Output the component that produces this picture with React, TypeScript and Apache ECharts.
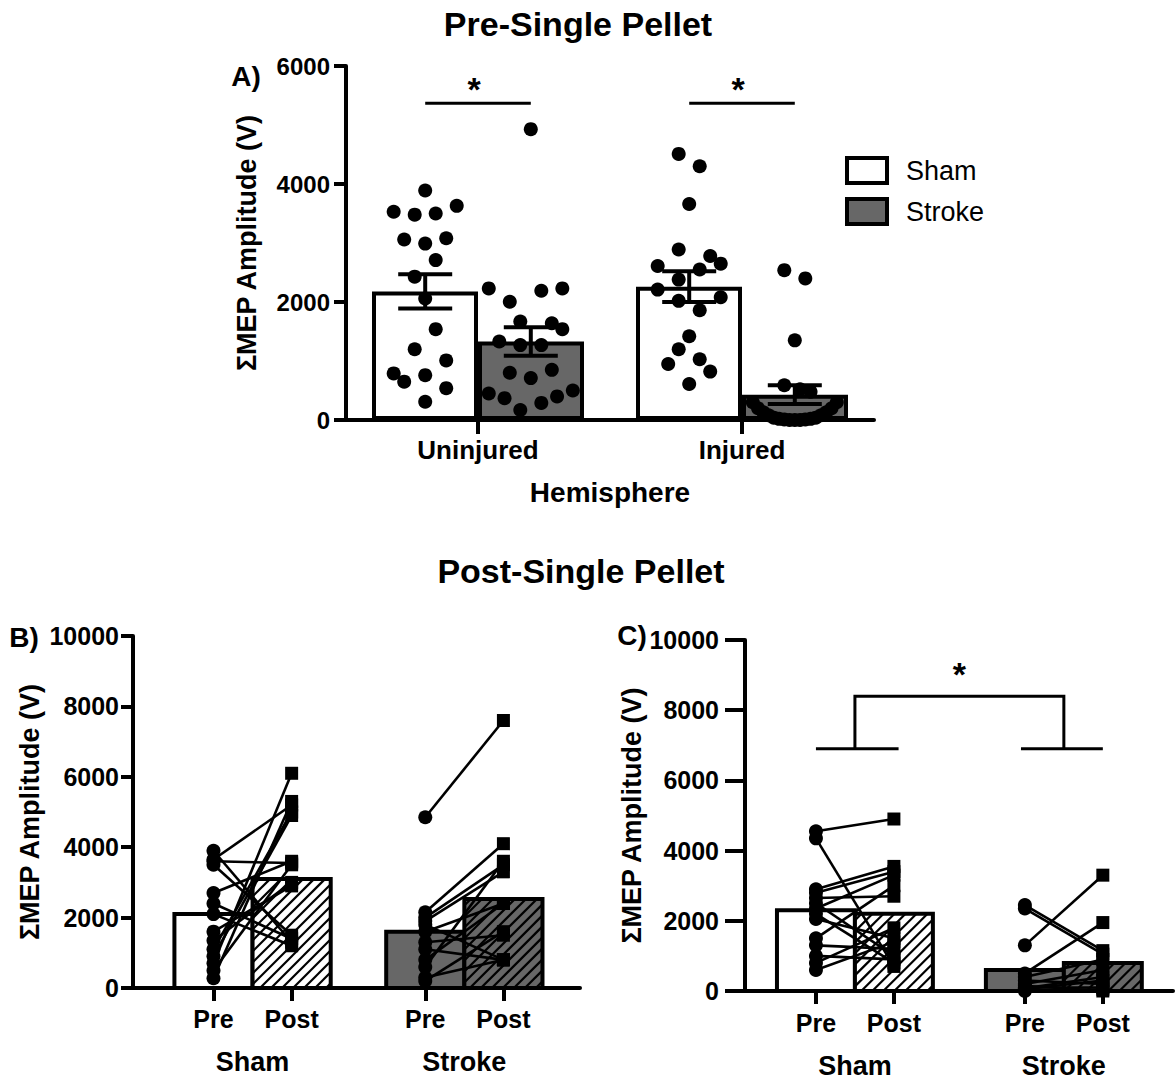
import React, { useEffect, useRef } from 'react';
import * as echarts from 'echarts';

const FONT = '"Liberation Sans", Arial, Helvetica, sans-serif';

// ---------------- Panel A : Pre-Single Pellet ----------------
const hemisphereCats = ['Uninjured', 'Injured'];
const legendNames = ['Sham', 'Stroke'];
const yTicksA = [0, 2000, 4000, 6000];
const shamMeanA = [2180, 2260];
const strokeMeanA = [1330, 430];
const shamSemA = [290, 260];
const strokeSemA = [240, 160];
// individual animals: [jitter column, value]
const shamUninjuredDots = [
  [0, 3890], [-3, 3530], [-1, 3480], [1, 3500], [3, 3630], [-2, 3060], [0, 2990], [2, 3080],
  [1, 2710], [-1, 2430], [0, 2060], [1, 1540], [-1, 1200], [2, 1010], [-3, 790], [-2, 650],
  [0, 760], [2, 540], [0, 310],
];
const strokeUninjuredDots = [
  [0, 4930], [-4, 2230], [1, 2190], [3, 2230], [-2, 2005], [-1, 1670], [2, 1640], [3, 1540],
  [-3, 1330], [-1, 1270], [1, 1270], [-2, 800], [0, 710], [2, 850], [-4, 450], [-2.5, 370],
  [1, 290], [2.5, 400], [4, 500], [-1, 170],
];
const shamInjuredDots = [
  [-1, 4510], [1, 4300], [0, 3660], [-1, 2890], [2, 2780], [3, 2650], [-3, 2610], [1, 2550],
  [-1, 2380], [-3, 2210], [3, 2080], [-1, 2020], [1, 1860], [0, 1420], [-1, 1200], [-2, 950],
  [1, 1030], [2, 820], [0, 610],
];
const strokeInjuredDots = [
  [-1, 2540], [1, 2400], [0, 1350], [-1, 590], [0.5, 520], [1.5, 480],
  [-4, 300], [-3.5, 200], [-3, 130], [-2.5, 80], [-2, 40], [-1.5, 20], [-1, 10], [-0.5, 0],
  [0, 0], [0.5, 0], [1, 10], [1.5, 20], [2, 40], [2.5, 80], [3, 130], [3.5, 200], [4, 300],
];
const sigLevelA = [5370, 5370];

// ---------------- Panels B / C : Post-Single Pellet ----------------
const timeLabels = ['Pre', 'Post'];
const groupLabels = ['Sham', 'Stroke'];
const yTicksBC = [0, 2000, 4000, 6000, 8000, 10000];
// B) uninjured hemisphere, means for [Pre, Post]
const shamMeanB = [2100, 3100];
const strokeMeanB = [1600, 2530];
// paired animals: [Pre, Post]
const shamPairsB = [
  [3900, 1300], [3650, 5200], [3600, 3550], [3500, 1500], [2700, 3600], [2400, 1400], [2100, 1200],
  [1600, 2900], [1350, 3000], [1100, 5000], [900, 4900], [700, 6100], [500, 3500], [280, 5300],
];
const strokePairsB = [
  [4850, 7600], [2150, 4100], [2000, 3500], [1900, 3300], [1600, 2400], [1300, 1500],
  [1100, 800], [800, 2400], [600, 3600], [300, 800], [200, 1600], [1800, 800],
];
// C) injured hemisphere
const shamMeanC = [2300, 2200];
const strokeMeanC = [600, 800];
const shamPairsC = [
  [4550, 4900], [4350, 700], [2900, 3550], [2800, 3400], [2650, 2700], [2500, 1000], [2350, 3300],
  [2200, 800], [2050, 1500], [1500, 3000], [1300, 1200], [1000, 900], [800, 1800], [600, 1400],
];
const strokePairsC = [
  [2450, 1150], [2350, 1050], [1300, 3300], [500, 1950], [400, 900], [300, 200],
  [200, 600], [100, 100], [50, 300], [0, 50], [150, 0], [80, 400],
];
const sigLevelsC = [6900, 8400];

// ---------------- layout (positions / sizes only) ----------------
const GRID_A = { left: 346, top: 66, width: 528, height: 354 };
const GRID_B = { left: 133, top: 636, width: 447, height: 352 };
const GRID_C = { left: 745, top: 640, width: 428, height: 351 };
const B_X = { max: 5.72, groupStart: [1.03, 3.74] };
const C_X = { max: 5.49, groupStart: [0.91, 3.59] };
const JIT = 0.0398;
const BAR_OFF = 0.2;
const GRAY = '#676767';

const txt = (size: number, weight: any = 'bold') => ({
  color: '#000', fontFamily: FONT, fontSize: size, fontWeight: weight,
});

function hatchLines(x0: number, y0: number, w: number, h: number, step: number) {
  const out: any[] = [];
  const yb = y0 + h;
  const sMin = x0 + y0;
  const sMax = x0 + w + yb;
  for (let s = sMin + step * 0.6; s < sMax; s += step) {
    const xa = Math.max(x0, s - yb);
    const xb = Math.min(x0 + w, s - y0);
    if (xb - xa > 0.5) {
      out.push({
        type: 'line',
        shape: { x1: xa, y1: s - xa, x2: xb, y2: s - xb },
        style: { stroke: '#000', lineWidth: 2.2 },
      });
    }
  }
  return out;
}

function makeYAxis(gridIndex: number, ticks: number[], tickLen: number, margin: number, nameGap: number, fs: number) {
  return {
    type: 'value', gridIndex,
    min: ticks[0], max: ticks[ticks.length - 1], interval: ticks[1] - ticks[0],
    name: 'ΣMEP Amplitude (V)', nameLocation: 'middle', nameGap,
    nameTextStyle: txt(27),
    axisLine: { show: true, onZero: false, lineStyle: { color: '#000', width: 4 } },
    axisTick: { show: true, length: tickLen, lineStyle: { color: '#000', width: 4 } },
    axisLabel: { ...txt(fs), margin, formatter: (v: number) => String(v) },
    splitLine: { show: false },
  };
}

function panelBC(gridIndex: number, xAxisIndex: number, yAxisIndex: number, lay: any,
  shamMean: number[], strokeMean: number[], shamPairs: number[][], strokePairs: number[][]) {
  const pos = (g: number, t: number) => lay.groupStart[g] + t;
  const means = [shamMean, strokeMean];
  const pairs = [shamPairs, strokePairs];
  const barData: number[][] = [];
  means.forEach((m, g) => m.forEach((v, t) => barData.push([pos(g, t), v, g, t])));
  const lineData: number[][] = [];
  const preData: number[][] = [];
  const postData: number[][] = [];
  pairs.forEach((ps, g) => ps.forEach(([a, b]) => {
    lineData.push([pos(g, 0), a, pos(g, 1), b]);
    preData.push([pos(g, 0), a]);
    postData.push([pos(g, 1), b]);
  }));
  return [
    {
      type: 'custom', name: `bars-${gridIndex}`, xAxisIndex, yAxisIndex, z: 2,
      data: barData,
      renderItem: (_p: any, api: any) => {
        const x = api.value(0), v = api.value(1), g = api.value(2), t = api.value(3);
        const p0 = api.coord([x - 0.5, v]);
        const p1 = api.coord([x + 0.5, 0]);
        const x0 = p0[0], y0 = p0[1], w = p1[0] - p0[0], h = p1[1] - p0[1];
        const children: any[] = [
          { type: 'rect', shape: { x: x0, y: y0, width: w, height: h }, style: { fill: g ? GRAY : '#fff', stroke: 'none' } },
        ];
        if (t === 1) children.push(...hatchLines(x0, y0, w, h, 11));
        children.push({ type: 'rect', shape: { x: x0, y: y0, width: w, height: h }, style: { fill: 'none', stroke: '#000', lineWidth: 4 } });
        return { type: 'group', children };
      },
    },
    {
      type: 'custom', name: `pairs-${gridIndex}`, xAxisIndex, yAxisIndex, z: 3,
      data: lineData,
      renderItem: (_p: any, api: any) => {
        const a = api.coord([api.value(0), api.value(1)]);
        const b = api.coord([api.value(2), api.value(3)]);
        return { type: 'line', shape: { x1: a[0], y1: a[1], x2: b[0], y2: b[1] }, style: { stroke: '#000', lineWidth: 2.6 } };
      },
    },
    {
      type: 'scatter', name: `pre-${gridIndex}`, xAxisIndex, yAxisIndex, z: 4,
      symbol: 'circle', symbolSize: 14, itemStyle: { color: '#000', opacity: 1 }, data: preData,
    },
    {
      type: 'scatter', name: `post-${gridIndex}`, xAxisIndex, yAxisIndex, z: 4,
      symbol: 'rect', symbolSize: 13, itemStyle: { color: '#000', opacity: 1 }, data: postData,
    },
  ];
}

function xAxesBC(gridIndex: number, lay: any, tickLen: number, labelMargin: number, groupMargin: number) {
  const pos = (g: number, t: number) => lay.groupStart[g] + t;
  const tickVals = [pos(0, 0), pos(0, 1), pos(1, 0), pos(1, 1)];
  const groupVals = [pos(0, 0.5), pos(1, 0.5)];
  const nearest = (vals: number[], v: number) => {
    let bi = 0;
    vals.forEach((x, i) => { if (Math.abs(x - v) < Math.abs(vals[bi] - v)) bi = i; });
    return bi;
  };
  return [
    {
      type: 'value', gridIndex, min: 0, max: lay.max, position: 'bottom',
      axisLine: { show: true, onZero: false, lineStyle: { color: '#000', width: 4 } },
      axisTick: { show: true, customValues: tickVals, length: tickLen, lineStyle: { color: '#000', width: 4 } },
      axisLabel: {
        ...txt(25), margin: labelMargin, customValues: tickVals,
        formatter: (v: number) => timeLabels[nearest(tickVals, v) % 2],
      },
      splitLine: { show: false },
    },
    {
      type: 'value', gridIndex, min: 0, max: lay.max, position: 'bottom',
      axisLine: { show: false, onZero: false }, axisTick: { show: false },
      axisLabel: {
        ...txt(27), margin: groupMargin, customValues: groupVals,
        formatter: (v: number) => groupLabels[nearest(groupVals, v)],
      },
      splitLine: { show: false },
    },
  ];
}

function buildOption(): any {
  const dotSets = [
    { dots: shamUninjuredDots, cat: 0, g: 0 },
    { dots: strokeUninjuredDots, cat: 0, g: 1 },
    { dots: shamInjuredDots, cat: 1, g: 0 },
    { dots: strokeInjuredDots, cat: 1, g: 1 },
  ];
  const dotsData = dotSets.flatMap((s) =>
    s.dots.map(([c, v]) => [s.cat + (s.g ? BAR_OFF : -BAR_OFF) + c * JIT, v]));
  const errData: number[][] = [];
  hemisphereCats.forEach((_, c) => {
    errData.push([c - BAR_OFF, shamMeanA[c], shamSemA[c]]);
    errData.push([c + BAR_OFF, strokeMeanA[c], strokeSemA[c]]);
  });
  const sigAData = hemisphereCats.map((_, c) => [c - BAR_OFF, c + BAR_OFF, sigLevelA[c]]);

  const posC = (g: number, t: number) => C_X.groupStart[g] + t;
  const sigCData = [[posC(0, 0), posC(0, 1), posC(1, 0), posC(1, 1), sigLevelsC[0], sigLevelsC[1]]];

  const gridBase = { containLabel: false, outerBoundsMode: 'none' };

  return {
    animation: false,
    backgroundColor: '#fff',
    textStyle: { fontFamily: FONT },
    grid: [
      { ...gridBase, ...GRID_A },
      { ...gridBase, ...GRID_B },
      { ...gridBase, ...GRID_C },
    ],
    legend: {
      data: legendNames, orient: 'vertical', left: 840, top: 151,
      itemWidth: 40, itemHeight: 25, itemGap: 12, icon: 'rect', selectedMode: false,
      itemStyle: { borderColor: '#000', borderWidth: 4 },
      textStyle: { ...txt(27, 'normal'), padding: [0, 0, 0, 14] },
    },
    xAxis: [
      {
        type: 'category', gridIndex: 0, data: hemisphereCats,
        name: 'Hemisphere', nameLocation: 'middle', nameGap: 58, nameTextStyle: txt(28),
        axisLine: { show: true, onZero: false, lineStyle: { color: '#000', width: 4 } },
        axisTick: { show: true, alignWithLabel: true, length: 14, lineStyle: { color: '#000', width: 4 } },
        axisLabel: { ...txt(26), margin: 17 },
        splitLine: { show: false },
      },
      { type: 'value', gridIndex: 0, min: -0.5, max: 1.5, show: false, axisLine: { onZero: false } },
      ...xAxesBC(1, B_X, 13, 18, 60),
      ...xAxesBC(2, C_X, 13, 19, 61),
    ],
    yAxis: [
      makeYAxis(0, yTicksA, 12, 16, 86, 24),
      makeYAxis(1, yTicksBC, 12, 14, 90, 25),
      makeYAxis(2, yTicksBC, 20, 26, 100, 25),
    ],
    series: [
      {
        type: 'bar', name: legendNames[0], xAxisIndex: 0, yAxisIndex: 0, data: shamMeanA,
        barWidth: 106, barGap: '0%', z: 2,
        itemStyle: { color: '#fff', borderColor: '#000', borderWidth: 4 },
      },
      {
        type: 'bar', name: legendNames[1], xAxisIndex: 0, yAxisIndex: 0, data: strokeMeanA,
        barWidth: 106, barGap: '0%', z: 2,
        itemStyle: { color: GRAY, borderColor: '#000', borderWidth: 4 },
      },
      {
        type: 'scatter', name: 'animals-A', xAxisIndex: 1, yAxisIndex: 0, z: 3,
        symbol: 'circle', symbolSize: 14, itemStyle: { color: '#000', opacity: 1 }, data: dotsData,
      },
      {
        type: 'custom', name: 'sem-A', xAxisIndex: 1, yAxisIndex: 0, z: 5, data: errData,
        renderItem: (_p: any, api: any) => {
          const x = api.value(0), m = api.value(1), s = api.value(2);
          const top = api.coord([x, m + s]);
          const bot = api.coord([x, m - s]);
          const hw = 27;
          const st = { stroke: '#000', lineWidth: 4 };
          return {
            type: 'group', children: [
              { type: 'line', shape: { x1: top[0], y1: top[1], x2: bot[0], y2: bot[1] }, style: st },
              { type: 'line', shape: { x1: top[0] - hw, y1: top[1], x2: top[0] + hw, y2: top[1] }, style: st },
              { type: 'line', shape: { x1: bot[0] - hw, y1: bot[1], x2: bot[0] + hw, y2: bot[1] }, style: st },
            ],
          };
        },
      },
      {
        type: 'custom', name: 'sig-A', xAxisIndex: 1, yAxisIndex: 0, z: 5, data: sigAData,
        renderItem: (_p: any, api: any) => {
          const a = api.coord([api.value(0), api.value(2)]);
          const b = api.coord([api.value(1), api.value(2)]);
          return {
            type: 'group', children: [
              { type: 'line', shape: { x1: a[0], y1: a[1], x2: b[0], y2: b[1] }, style: { stroke: '#000', lineWidth: 3 } },
              {
                type: 'text', x: (a[0] + b[0]) / 2 - 4, y: a[1] - 14,
                style: { text: '*', ...txt(34), fill: '#000', align: 'center', verticalAlign: 'middle' },
              },
            ],
          };
        },
      },
      ...panelBC(1, 2, 1, B_X, shamMeanB, strokeMeanB, shamPairsB, strokePairsB),
      ...panelBC(2, 4, 2, C_X, shamMeanC, strokeMeanC, shamPairsC, strokePairsC),
      {
        type: 'custom', name: 'sig-C', xAxisIndex: 4, yAxisIndex: 2, z: 5, data: sigCData,
        renderItem: (_p: any, api: any) => {
          const lo = api.value(4), hi = api.value(5);
          const st = { stroke: '#000', lineWidth: 3, fill: 'none' };
          const m0 = (api.value(0) + api.value(1)) / 2;
          const m1 = (api.value(2) + api.value(3)) / 2;
          const l0a = api.coord([api.value(0), lo]);
          const l0b = api.coord([api.value(1) + 0.06, lo]);
          const l1a = api.coord([api.value(2) - 0.05, lo]);
          const l1b = api.coord([api.value(3), lo]);
          const v0 = api.coord([m0, lo]);
          const v1 = api.coord([m1, lo]);
          const t0 = api.coord([m0, hi]);
          const t1 = api.coord([m1, hi]);
          return {
            type: 'group', children: [
              { type: 'line', shape: { x1: l0a[0], y1: l0a[1], x2: l0b[0], y2: l0b[1] }, style: st },
              { type: 'line', shape: { x1: l1a[0], y1: l1a[1], x2: l1b[0], y2: l1b[1] }, style: st },
              { type: 'polyline', shape: { points: [v0, t0, t1, v1] }, style: st },
              {
                type: 'text', x: (t0[0] + t1[0]) / 2, y: t0[1] - 22,
                style: { text: '*', ...txt(34), fill: '#000', align: 'center', verticalAlign: 'middle' },
              },
            ],
          };
        },
      },
    ],
    graphic: [
      { type: 'text', x: 578, y: 24, style: { text: 'Pre-Single Pellet', ...txt(34), fill: '#000', align: 'center', verticalAlign: 'middle' } },
      { type: 'text', x: 581, y: 571, style: { text: 'Post-Single Pellet', ...txt(34), fill: '#000', align: 'center', verticalAlign: 'middle' } },
      { type: 'text', x: 246, y: 76, style: { text: 'A)', ...txt(28), fill: '#000', align: 'center', verticalAlign: 'middle' } },
      { type: 'text', x: 24, y: 637, style: { text: 'B)', ...txt(28), fill: '#000', align: 'center', verticalAlign: 'middle' } },
      { type: 'text', x: 632, y: 635, style: { text: 'C)', ...txt(28), fill: '#000', align: 'center', verticalAlign: 'middle' } },
    ],
  };
}

export default function App() {
  const ref = useRef<HTMLDivElement>(null);
  useEffect(() => {
    if (!ref.current) return;
    const chart = echarts.init(ref.current, undefined, { renderer: 'svg' });
    chart.setOption(buildOption());
    return () => chart.dispose();
  }, []);
  return (
    <div
      ref={ref}
      style={{ position: 'fixed', left: 0, top: 0, width: 1175, height: 1080, background: '#fff' }}
    />
  );
}
